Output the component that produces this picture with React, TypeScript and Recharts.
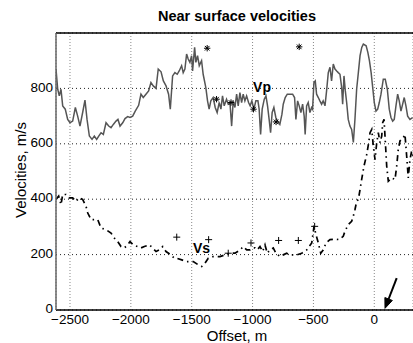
import React from 'react';
import {
  ComposedChart,
  Line,
  Scatter,
  XAxis,
  YAxis,
  CartesianGrid,
  ReferenceLine,
} from 'recharts';

// ---- Data ----
const xTicks = [-2500, -2000, -1500, -1000, -500, 0];
const yTicks = [0, 200, 400, 600, 800];

const vpOffset = [
  -2615, -2601, -2588, -2574, -2560, -2539, -2519, -2500, -2478, -2456, -2437, -2418, -2396, -2377, -2360,
  -2341, -2319, -2300, -2281, -2264, -2245, -2226, -2204, -2182, -2163, -2144, -2122, -2106, -2089, -2067,
  -2048, -2026, -2007, -1985, -1964, -1936, -1917, -1898, -1876, -1854, -1835, -1816, -1793, -1775, -1752,
  -1733, -1711, -1690, -1676, -1657, -1638, -1619, -1603, -1583, -1570, -1556, -1542, -1529, -1515, -1501,
  -1493, -1476, -1466, -1452, -1438, -1419, -1406, -1384, -1370, -1357, -1343, -1324, -1307, -1291, -1274,
  -1260, -1247, -1233, -1214, -1200, -1186, -1172, -1159, -1145, -1131, -1118, -1104, -1090, -1077, -1063,
  -1049, -1033, -1020, -1006, -989, -973, -956, -946, -934, -921, -904, -890, -877, -864, -852,
  -839, -825, -809, -795, -776, -759, -748, -732, -715, -693, -671, -655, -644, -630, -617,
  -603, -589, -576, -568, -556, -543, -529, -515, -507, -496, -485, -474, -460, -447, -433,
  -420, -405, -392, -378, -364, -351, -337, -323, -309, -296, -282, -268, -260, -249, -238,
  -227, -214, -200, -186, -172, -159, -145, -131, -117, -103, -90, -67, -53, -40, -26,
  -13, 0, 14, 28, 41, 55, 74, 90, 107, 123, 137, 151, 164, 178, 192,
  205, 219, 233, 246, 260, 274, 293, 315,
];
const vpVelocity = [
  870, 797, 773, 797, 737, 725, 688, 676, 682, 731, 700, 664, 713, 758, 688,
  628, 616, 628, 616, 628, 640, 634, 676, 664, 658, 670, 682, 688, 664, 676,
  691, 698, 695, 700, 718, 739, 779, 767, 779, 791, 821, 809, 800, 870, 860,
  827, 809, 779, 725, 845, 857, 851, 863, 882, 857, 870, 924, 906, 894, 918,
  863, 948, 894, 918, 882, 900, 851, 803, 755, 725, 755, 767, 731, 713, 749,
  725, 773, 737, 761, 743, 749, 664, 755, 731, 779, 737, 785, 749, 779, 755,
  773, 749, 737, 755, 725, 755, 755, 725, 634, 725, 761, 773, 737, 688, 640,
  713, 731, 695, 682, 670, 706, 743, 767, 779, 779, 779, 767, 688, 755, 737,
  713, 743, 700, 634, 737, 749, 713, 731, 725, 821, 827, 779, 767, 755, 743,
  755, 737, 791, 857, 876, 827, 888, 870, 863, 857, 851, 803, 743, 845, 791,
  749, 688, 664, 652, 605, 688, 797, 857, 918, 948, 960, 954, 930, 900, 857,
  803, 749, 718, 725, 749, 779, 833, 833, 797, 725, 695, 682, 688, 737, 779,
  755, 718, 743, 767, 737, 700, 688, 695,
];

const vsOffset = [
  -2615, -2593, -2574, -2560, -2533, -2506, -2478, -2451, -2424, -2396, -2368, -2354, -2327, -2300, -2272,
  -2245, -2204, -2163, -2136, -2108, -2081, -2054, -2026, -2007, -1980, -1944, -1917, -1889, -1848, -1821,
  -1793, -1766, -1738, -1711, -1670, -1643, -1623, -1582, -1541, -1487, -1446, -1418, -1391, -1364, -1323,
  -1268, -1226, -1185, -1144, -1103, -1076, -1048, -1021, -999, -980, -961, -939, -917, -898, -879,
  -857, -830, -808, -775, -748, -720, -693, -637, -596, -555, -514, -495, -479, -460, -440,
  -419, -397, -364, -323, -288, -255, -241, -214, -186, -173, -159, -145, -131, -117, -104,
  -85, -62, -46, -35, -21, -8, 6, 20, 33, 47, 61, 69, 80, 88, 102,
  115, 143, 170, 184, 197, 211, 238, 252, 266, 279, 293, 307, 318,
];
const vsVelocity = [
  399, 411, 380, 417, 417, 405, 405, 392, 405, 399, 374, 350, 326, 326, 326,
  296, 290, 278, 260, 247, 229, 224, 235, 247, 235, 229, 224, 229, 235, 224,
  211, 217, 229, 211, 199, 187, 187, 181, 175, 175, 163, 157, 169, 187, 193,
  193, 199, 205, 205, 217, 229, 217, 217, 224, 224, 217, 229, 211, 235, 205,
  217, 224, 205, 193, 199, 205, 199, 199, 205, 217, 242, 302, 272, 242, 205,
  217, 242, 254, 256, 254, 266, 284, 308, 320, 338, 362, 392, 399, 435, 471,
  519, 562, 604, 640, 652, 592, 543, 604, 640, 604, 628, 676, 688, 628, 519,
  465, 477, 471, 519, 580, 610, 622, 634, 556, 477, 543, 574, 556,
];

const starOffset = [-1373, -617, -1296, -1177, -992, -807];
const starVelocity = [945, 950, 761, 749, 725, 679];

const plusOffset = [-1623, -1361, -1200, -1013, -786, -624, -490];
const plusVelocity = [263, 254, 205, 242, 251, 251, 302];

const seriesLabels = ['Vp', 'Vs'];
const labelOffset = [-996, -1490];
const labelVelocity = [786, 206];

const arrowFrom = { x: 184, y: 115 };
const arrowTo = { x: 88, y: 6 };

// ---- Build tables ----
const vpData = vpOffset.map((x, i) => ({ x, y: vpVelocity[i] }));
const vsData = vsOffset.map((x, i) => ({ x, y: vsVelocity[i] }));
const starData = starOffset.map((x, i) => ({ x, y: starVelocity[i] }));
const plusData = plusOffset.map((x, i) => ({ x, y: plusVelocity[i] }));
const labelData = seriesLabels.map((t, i) => ({ x: labelOffset[i], y: labelVelocity[i], t }));

const FONT = '"Liberation Sans", Arial, Helvetica, sans-serif';
const fmt = (v: number) => String(v).replace('-', '\u2212');

const YTick = (p: any) => {
  const { x, y, payload } = p;
  return (
    <text
      x={x}
      y={y}
      dy={3.2}
      textAnchor="end"
      fontFamily={FONT}
      fontSize={13.5}
      fill="#000"
    >
      {payload?.value}
    </text>
  );
};

const StarShape = (p: any) => {
  const { cx, cy } = p;
  const r = 3.2;
  const d = r * 0.72;
  return (
    <g stroke="#000" strokeWidth={1}>
      <line x1={cx - r} y1={cy} x2={cx + r} y2={cy} />
      <line x1={cx} y1={cy - r} x2={cx} y2={cy + r} />
      <line x1={cx - d} y1={cy - d} x2={cx + d} y2={cy + d} />
      <line x1={cx - d} y1={cy + d} x2={cx + d} y2={cy - d} />
    </g>
  );
};

const PlusShape = (p: any) => {
  const { cx, cy } = p;
  const r = 3.5;
  return (
    <g stroke="#000" strokeWidth={1}>
      <line x1={cx - r} y1={cy} x2={cx + r} y2={cy} />
      <line x1={cx} y1={cy - r} x2={cx} y2={cy + r} />
    </g>
  );
};

const LabelShape = (p: any) => {
  const { cx, cy, payload } = p;
  return (
    <text x={cx} y={cy} fontFamily={FONT} fontSize={14} fontWeight="bold" fill="#000">
      {payload?.t}
    </text>
  );
};

const ArrowShape = (p: any) => {
  const { x1, y1, x2, y2 } = p;
  if ([x1, y1, x2, y2].some((v) => typeof v !== 'number')) return null;
  const dx = x2 - x1;
  const dy = y2 - y1;
  const len = Math.sqrt(dx * dx + dy * dy) || 1;
  const ux = dx / len;
  const uy = dy / len;
  const hl = 10;
  const hw = 4;
  const bx = x2 - ux * hl;
  const by = y2 - uy * hl;
  const pts = `${x2},${y2} ${bx - uy * hw},${by + ux * hw} ${bx + uy * hw},${by - ux * hw}`;
  return (
    <g>
      <line x1={x1} y1={y1} x2={bx} y2={by} stroke="#000" strokeWidth={2} />
      <polygon points={pts} fill="#000" stroke="#000" strokeWidth={1} />
    </g>
  );
};

export default function App() {
  return (
    <div
      style={{
        position: 'absolute',
        left: 0,
        top: 0,
        width: 413,
        height: 343,
        background: '#fff',
        fontFamily: FONT,
        overflow: 'hidden',
      }}
    >
      <ComposedChart
        width={413}
        height={343}
        margin={{ top: 33, right: 0, bottom: 0, left: 0 }}
      >
        <CartesianGrid horizontal={false} stroke="#888" strokeDasharray="1 2" />
        <CartesianGrid vertical={false} stroke="#222" strokeDasharray="1 3" />
        <XAxis
          type="number"
          dataKey="x"
          domain={[-2615, 318]}
          ticks={xTicks}
          allowDataOverflow
          height={33}
          tickSize={2}
          tickMargin={2}
          tickLine={false}
          tickFormatter={fmt}
          axisLine={{ stroke: '#000', strokeWidth: 1.5 }}
          tick={{ fill: '#000', fontSize: 13.5, fontFamily: FONT }}
          interval={0}
        />
        <YAxis
          type="number"
          dataKey="y"
          domain={[0, 1000]}
          ticks={yTicks}
          allowDataOverflow
          width={56}
          tickSize={1}
          tickMargin={2}
          tickLine={false}
          axisLine={{ stroke: '#666', strokeWidth: 1.5 }}
          tick={YTick}
          interval={0}
        />
        <ReferenceLine y={1000} stroke="#000" strokeWidth={1.5} ifOverflow="extendDomain" />
        <Line
          data={vpData}
          dataKey="y"
          type="linear"
          stroke="#555"
          strokeWidth={1.5}
          dot={false}
          activeDot={false}
          isAnimationActive={false}
        />
        <Line
          data={vsData}
          dataKey="y"
          type="linear"
          stroke="#000"
          strokeWidth={1.7}
          strokeDasharray="6 4 1.5 4"
          dot={false}
          activeDot={false}
          isAnimationActive={false}
        />
        <Scatter data={starData} dataKey="y" shape={StarShape} isAnimationActive={false} />
        <Scatter data={plusData} dataKey="y" shape={PlusShape} isAnimationActive={false} />
        <Scatter data={labelData} dataKey="y" shape={LabelShape} isAnimationActive={false} />
        <ReferenceLine
          segment={[arrowFrom, arrowTo]}
          shape={ArrowShape}
          ifOverflow="visible"
        />
      </ComposedChart>
      <div
        style={{
          position: 'absolute',
          left: 237,
          top: 16,
          transform: 'translate(-50%, -50%)',
          whiteSpace: 'nowrap',
          fontSize: 14.5,
          fontWeight: 'bold',
          color: '#000',
        }}
      >
        Near surface velocities
      </div>
      <div
        style={{
          position: 'absolute',
          left: 20,
          top: 170,
          transform: 'translate(-50%, -50%) rotate(-90deg)',
          whiteSpace: 'nowrap',
          fontSize: 15,
          color: '#000',
        }}
      >
        Velocities, m/s
      </div>
      <div
        style={{
          position: 'absolute',
          left: 237,
          top: 335,
          transform: 'translate(-50%, -50%)',
          whiteSpace: 'nowrap',
          fontSize: 15,
          lineHeight: '15px',
          color: '#000',
        }}
      >
        Offset, m
      </div>
    </div>
  );
}
